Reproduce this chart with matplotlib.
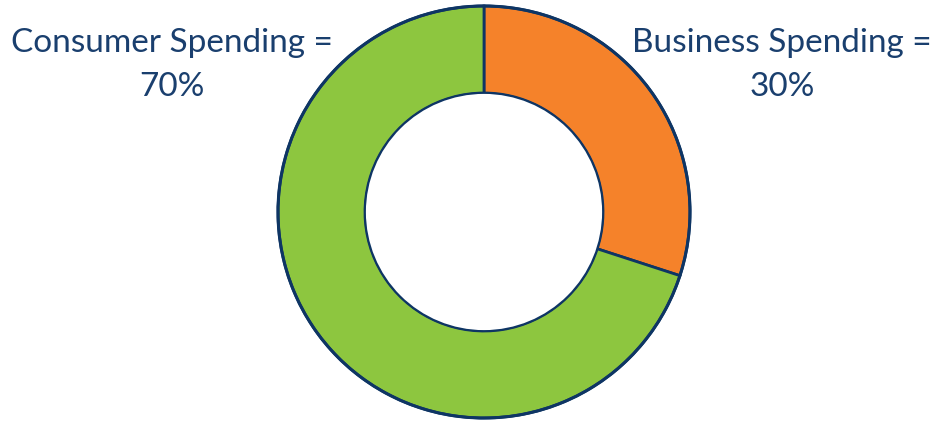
import matplotlib.pyplot as plt
from matplotlib.patches import Circle

labels = ['Business Spending =\n30%', 'Consumer Spending =\n70%']
shares = [30, 70]
colors = ['#F5822A', '#8DC63F']
edge = '#0E3564'
text_color = '#1A3F6E'

fig = plt.figure(figsize=(9.32, 4.22), dpi=100)
ax = fig.add_axes([0, 0, 1, 1])

cx, cy, r = 484, 422 - 212, 206
width = 87

# donut, clockwise from 12 o'clock
ax.pie(shares, colors=colors, startangle=90, counterclock=False,
       center=(cx, cy), radius=r, frame=True,
       wedgeprops=dict(width=width, edgecolor=edge, linewidth=2.0))
ax.set_xlim(0, 932)
ax.set_ylim(0, 422)
ax.set_aspect('equal')
ax.axis('off')

# outer rim a bit heavier, inner rim thinner
ax.add_patch(Circle((cx, cy), r, fill=False, edgecolor=edge, linewidth=2.2, zorder=5))
ax.add_patch(Circle((cx, cy), r - width, facecolor='white', edgecolor=edge, linewidth=1.3, zorder=5))

ax.text(782, 422 - 65, labels[0], ha='center', va='center', fontsize=24,
        family='Lato', color=text_color, linespacing=1.6)
ax.text(172, 422 - 65, labels[1], ha='center', va='center', fontsize=24,
        family='Lato', color=text_color, linespacing=1.6)

fig.savefig('out.png', dpi=100)
